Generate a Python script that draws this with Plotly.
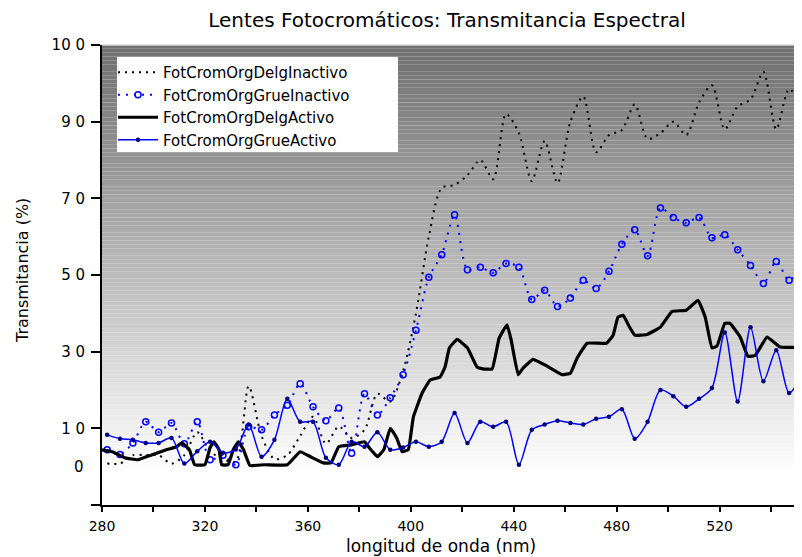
import plotly.graph_objects as go

# ---------------- data ----------------
wl5 = [282, 287, 292, 297, 302, 307, 312, 317, 322, 327, 332, 337, 342, 347, 352,
       357, 362, 367, 372, 377, 382, 387, 392, 397, 402, 407, 412, 417, 422, 427,
       432, 437, 442, 447, 452, 457, 462, 467, 472, 477, 482, 487, 492, 497, 502,
       507, 512, 517, 522, 527, 532, 537, 542, 547, 552]

delg_inactivo = [0.8, 0.8, 3.0, 3.0, 3.0, 0.8, 3.0, 9.0, 4.0, 2.0, 1.3, 21.0, 8.0, 2.0, 3.0,
                 8.0, 13.0, 6.0, 10.5, 7.5, 9.6, 19.0, 17.0, 25.0, 40.0, 60.0, 72.7, 73.5, 76.0, 80.0,
                 75.0, 92.0, 87.0, 74.5, 85.0, 74.0, 90.0, 96.6, 82.0, 86.5, 87.8, 94.5, 85.5, 87.0, 90.0,
                 86.5, 95.0, 99.5, 88.0, 94.0, 95.8, 103.0, 88.0, 98.5, 94.0]

grue_inactivo = [4.4, 3.2, 6.2, 11.7, 9.0, 11.4, 6.0, 11.7, 1.8, 3.0, 0.5, 10.4, 9.6, 13.5, 16.0,
                 21.6, 15.6, 12.0, 15.3, 3.5, 19.0, 13.5, 18.0, 24.0, 35.6, 49.4, 55.3, 65.7, 51.4, 52.0,
                 50.6, 53.0, 52.0, 43.6, 46.0, 41.8, 44.0, 48.6, 46.5, 51.0, 58.0, 61.8, 55.0, 67.5, 65.0,
                 63.6, 65.0, 59.7, 60.5, 56.6, 52.5, 47.8, 53.5, 48.6, 52.5]

grue_activo = [8.3, 7.3, 7.0, 6.2, 6.2, 7.5, 0.8, 4.0, 6.5, 3.6, 4.5, 11.0, 2.6, 7.0, 17.7,
               11.7, 11.7, 2.3, 0.5, 6.5, 5.2, 9.0, 4.4, 5.0, 6.5, 5.2, 6.5, 14.0, 6.2, 11.7,
               10.4, 11.7, 0.5, 9.6, 11.0, 12.0, 11.4, 11.0, 12.5, 13.0, 15.0, 7.3, 11.7, 20.0, 18.4,
               15.6, 17.7, 20.5, 35.0, 17.0, 36.4, 22.3, 30.4, 19.2, 24.0]

wl_delg_activo = [280, 284, 289, 294, 299, 305, 309, 311, 314, 316, 320, 322, 323.5, 325.5, 326.5,
                  329, 331, 333, 335, 337.5, 343, 352, 357, 361, 366, 369, 372, 377, 382, 384,
                  387, 389.5, 392, 394.5, 396.6, 399, 401, 404.4, 407.5, 411.4, 413.3, 415, 418, 422, 425.7,
                  428, 431.6, 434.3, 437.4, 439, 441.7, 443.6, 447.5, 453, 458.8, 462, 464.6, 468.5, 476, 478.6,
                  480.5, 482.5, 485, 487, 491.8, 497, 501.5, 507, 511.6, 514.4, 517, 519, 522, 524, 528,
                  531, 533.8, 538.4, 543.5, 552]
delg_activo = [4.4, 3.9, 2.3, 1.8, 3.0, 4.4, 5.2, 6.2, 4.4, 0.5, 0.5, 5.0, 6.5, 4.4, 0.5,
               0.5, 4.4, 6.5, 4.4, 0.3, 0.5, 0.5, 3.9, 2.6, 1.0, 1.0, 5.2, 5.7, 6.5, 4.8,
               2.6, 4.4, 10.0, 7.5, 3.9, 4.4, 13.0, 19.2, 22.6, 23.4, 26.0, 31.0, 33.2, 31.0, 26.0,
               25.5, 25.5, 33.5, 37.0, 33.0, 24.0, 25.7, 28.0, 26.2, 24.0, 24.4, 28.3, 32.2, 32.2, 34.3,
               39.0, 39.5, 36.4, 34.3, 34.5, 36.4, 40.5, 40.8, 43.4, 39.0, 31.0, 31.5, 37.4, 37.4, 33.8,
               28.8, 29.0, 33.8, 31.2, 31.2]

series_names = ["FotCromOrgDelgInactivo", "FotCromOrgGrueInactivo",
                "FotCromOrgDelgActivo", "FotCromOrgGrueActivo"]

x_tickvals = [280, 300, 320, 340, 360, 380, 400, 420, 440, 460, 480, 500, 520, 540]
x_ticktext = ["280", "", "320", "", "360", "", "400", "", "440", "", "480", "", "520", ""]
y_tickvals = [-10, 10, 30, 50, 70, 90, 110]
y_ticktext = ["", "1 0", "3 0", "5 0", "7 0", "9 0", "10 0"]

# ---------------- figure ----------------
# The page body has an 8px default margin, so the figure is 8px smaller
# and all positions are expressed relative to that offset.
OFF = 8
W, H = 802 - OFF, 557 - OFF
PL, PT, PW, PH = 102 - OFF, 45 - OFF, 700, 460   # plot area in figure pixels
FONT = "DejaVu Sans"

fig = go.Figure()

fig.add_trace(go.Scatter(
    x=wl5, y=delg_inactivo, name=series_names[0], mode="lines",
    line=dict(color="black", width=2, dash="2px,5px", shape="spline", smoothing=0.8)))
fig.add_trace(go.Scatter(
    x=wl5, y=grue_inactivo, name=series_names[1], mode="lines+markers",
    line=dict(color="#0000ff", width=2, dash="2px,6px", shape="spline", smoothing=0.8),
    marker=dict(symbol="circle-open", size=6, color="#0000ff", line=dict(width=1.5))))
fig.add_trace(go.Scatter(
    x=wl_delg_activo, y=delg_activo, name=series_names[2], mode="lines",
    line=dict(color="black", width=3.2, shape="spline", smoothing=0.3)))
fig.add_trace(go.Scatter(
    x=wl5, y=grue_activo, name=series_names[3], mode="lines+markers",
    line=dict(color="#0000ff", width=1.5, shape="spline", smoothing=0.8),
    marker=dict(symbol="circle", size=4.5, color="#000080")))

# gradient background (bands in data y)
shapes = []
v = -10
while v < 110:
    v0, v1 = v, v + 1
    mid = (v0 + v1) / 2
    if mid <= -2:
        c = 255
    else:
        c = int(round(255 - (255 - 110) * (mid + 2) / 112))
    shapes.append(dict(type="rect", xref="paper", yref="y", x0=0, x1=1, y0=v0, y1=v1,
                       fillcolor=f"rgb({c},{c},{c})", line=dict(width=0), layer="below"))
    v += 1
# top border line of plot area
shapes.append(dict(type="line", xref="paper", yref="paper", x0=0, x1=1, y0=1, y1=1,
                   line=dict(color="#d8d8d8", width=1.5), layer="above"))
# legend box
shapes.append(dict(type="rect", xref="paper", yref="paper",
                   x0=(117 - 102) / PW, x1=(398 - 102) / PW,
                   y0=(505 - 152) / PH, y1=(505 - 57) / PH,
                   fillcolor="white", line=dict(width=0), layer="above"))

fig.update_layout(
    width=W, height=H,
    margin=dict(l=PL, r=W - PL - PW, t=PT, b=H - PT - PH, autoexpand=False),
    paper_bgcolor="white", plot_bgcolor="white",
    font=dict(family=FONT, color="black", size=15),
    shapes=shapes,
    showlegend=True,
    legend=dict(x=(113 - 102) / PW, y=(505 - 56) / PH, xanchor="left", yanchor="top",
                bgcolor="rgba(0,0,0,0)", borderwidth=0, itemwidth=40,
                font=dict(family=FONT, size=15, color="black"), tracegroupgap=0),
    title=dict(text="Lentes Fotocromáticos: Transmitancia Espectral",
               x=(447 - OFF) / W, xref="container", xanchor="center",
               y=1 - (20 - OFF) / H, yref="container", yanchor="middle",
               font=dict(family=FONT, size=20, color="black")),
    xaxis=dict(range=[280, 552], tickmode="array", tickvals=x_tickvals, ticktext=x_ticktext,
               showgrid=False, zeroline=False, showline=True, linecolor="black", linewidth=2,
               ticks="outside", ticklen=5, tickwidth=1.5, tickcolor="black", automargin=False,
               ticklabelstandoff=2, tickfont=dict(family=FONT, size=14)),
    yaxis=dict(range=[-10, 110], tickmode="array", tickvals=y_tickvals, ticktext=y_ticktext,
               showgrid=False, zeroline=False, showline=True, linecolor="black", linewidth=2,
               ticks="outside", ticklen=9, tickwidth=1.5, tickcolor="black", automargin=False,
               ticklabelstandoff=3, tickfont=dict(family=FONT, size=15)),
    annotations=[
        dict(text="0", xref="paper", yref="y", x=(86 - 102) / PW, y=0, xanchor="right",
             yanchor="middle", showarrow=False, font=dict(family=FONT, size=15)),
        dict(text="Transmitancia (%)", xref="paper", yref="paper", x=(22 - 102) / PW,
             y=(505 - 271) / PH, textangle=-90, xanchor="center", yanchor="middle",
             showarrow=False, font=dict(family=FONT, size=16)),
        dict(text="longitud de onda (nm)", xref="paper", yref="paper", x=(441 - 102) / PW,
             y=-(546 - 505) / PH, xanchor="center", yanchor="middle",
             showarrow=False, font=dict(family=FONT, size=17)),
    ],
)

fig.write_html("out.html")
